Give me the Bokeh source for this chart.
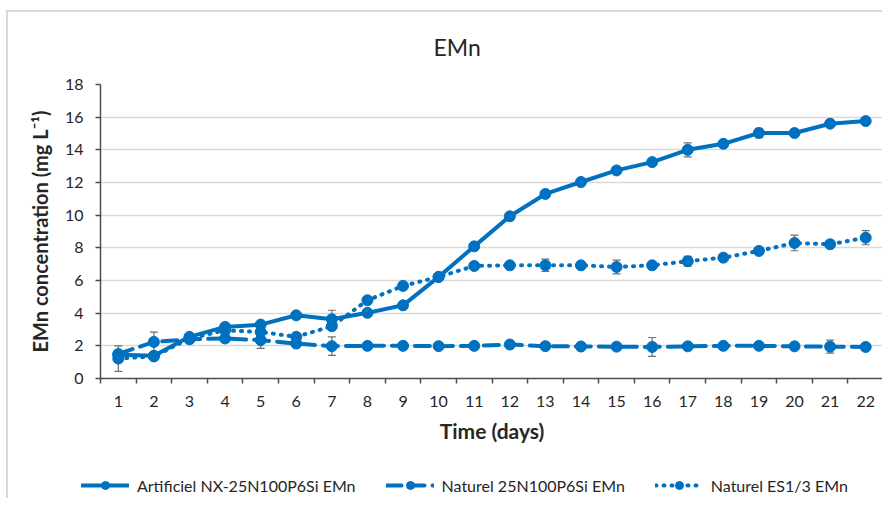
from bokeh.plotting import figure
from bokeh.models import (ColumnDataSource, Whisker, TeeHead, FixedTicker, Legend,
                          LegendItem, Title, Range1d)
from bokeh.embed import file_html
from bokeh.resources import INLINE

# ---- data ----
days = list(range(1, 23))
artificiel = [1.45, 1.39, 2.55, 3.16, 3.3, 3.87, 3.63, 4.02, 4.48, 6.22, 8.09, 9.93,
              11.3, 12.03, 12.74, 13.25, 14.0, 14.37, 15.03, 15.03, 15.6, 15.76]
artificiel_err = [0.1, 0.1, 0.1, 0.1, 0.1, 0.1, 0.55, 0.1, 0.1, 0.1, 0.1, 0.1,
                  0.2, 0.1, 0.1, 0.1, 0.43, 0.1, 0.28, 0.1, 0.1, 0.1]
naturel25 = [1.5, 2.24, 2.4, 2.45, 2.35, 2.14, 1.98, 2.0, 2.0, 1.98, 2.0, 2.08,
             1.98, 1.96, 1.95, 1.93, 1.97, 2.0, 2.0, 1.97, 1.95, 1.93]
naturel25_err = [0.1, 0.6, 0.1, 0.2, 0.5, 0.1, 0.57, 0.1, 0.1, 0.15, 0.12, 0.1,
                 0.1, 0.1, 0.1, 0.58, 0.1, 0.1, 0.1, 0.1, 0.4, 0.1]
es13 = [1.22, 1.35, 2.45, 2.95, 2.85, 2.55, 3.2, 4.79, 5.67, 6.22, 6.89, 6.93,
        6.93, 6.93, 6.83, 6.93, 7.18, 7.4, 7.81, 8.3, 8.22, 8.62]
es13_err = [0.78, 0.1, 0.1, 0.1, 0.1, 0.1, 0.1, 0.1, 0.1, 0.15, 0.1, 0.1,
            0.38, 0.1, 0.42, 0.1, 0.3, 0.1, 0.1, 0.48, 0.1, 0.43]

labels = ["Artificiel NX-25N100P6Si EMn", "Naturel 25N100P6Si EMn", "Naturel ES1/3 EMn"]
y_ticks = list(range(0, 19, 2))

BLUE = "#0070C0"
FONT = "Lato"
AXIS = "#4d4d4d"
TEXT = "#262626"
BORDER = "2px solid #d9d9d9"

# ---- title strip ----
tf = figure(width=876, height=50, output_backend="svg", toolbar_location=None,
            x_range=Range1d(0, 1), y_range=Range1d(0, 1), min_border=0,
            x_axis_type=None, y_axis_type=None, margin=(10, 0, 0, 6),
            styles={"border-left": BORDER, "border-top": BORDER})
tf.title.visible = False
tf.grid.visible = False
tf.outline_line_color = None
tf.add_layout(Title(text="EMn", align="left", offset=425, text_font=FONT,
                    text_font_size="23px", text_font_style="normal",
                    text_color=TEXT, standoff=4), "below")

# ---- main chart ----
p = figure(width=876, height=400, output_backend="svg", toolbar_location=None,
           x_range=Range1d(0.5, 22.5), y_range=Range1d(0, 18),
           min_border_left=92, min_border_right=1, min_border_top=24,
           min_border_bottom=82, margin=(0, 0, 0, 6),
           styles={"border-left": BORDER})
p.title.visible = False
p.outline_line_color = None
p.background_fill_color = "white"
p.border_fill_color = "white"

series = [
    (artificiel, artificiel_err, "solid"),
    (naturel25, naturel25_err, "15 8"),
    (es13, es13_err, "1 7"),
]

sources = []
for vals, errs, dash in series:
    src = ColumnDataSource(dict(x=days, y=vals,
                                lo=[v - e for v, e in zip(vals, errs)],
                                hi=[v + e for v, e in zip(vals, errs)]))
    sources.append(src)
    w = Whisker(base="x", upper="hi", lower="lo", source=src,
                line_color="#6f6f6f", line_width=1.2,
                upper_head=TeeHead(size=8, line_color="#6f6f6f", line_width=1.2),
                lower_head=TeeHead(size=8, line_color="#6f6f6f", line_width=1.2))
    p.add_layout(w)
    p.line("x", "y", source=src, line_color=BLUE, line_width=4,
           line_dash=dash, line_cap="round")
    p.scatter("x", "y", source=src, size=11, fill_color=BLUE, line_color=BLUE)

# x axis
p.xaxis.ticker = FixedTicker(ticks=days, minor_ticks=[d - 0.5 for d in days] + [22.5])
p.xaxis.major_tick_out = 0
p.xaxis.major_tick_in = 0
p.xaxis.minor_tick_out = 5
p.xaxis.minor_tick_in = 0
p.xaxis.minor_tick_line_color = AXIS
p.xaxis.minor_tick_line_width = 1.5
p.xaxis.axis_label = "Time (days)"
p.xaxis.major_label_standoff = 12
p.xaxis.axis_label_standoff = 8

# y axis
p.yaxis.ticker = FixedTicker(ticks=y_ticks)
p.yaxis.major_tick_out = 5
p.yaxis.major_tick_in = 0
p.yaxis.minor_tick_out = 0
p.yaxis.minor_tick_in = 0
p.yaxis.major_tick_line_color = AXIS
p.yaxis.major_tick_line_width = 1.5
p.yaxis.axis_label = "EMn concentration (mg L\u207b\u00b9)"
p.yaxis.major_label_standoff = 12
p.yaxis.axis_label_standoff = 10

for ax in (p.xaxis[0], p.yaxis[0]):
    ax.axis_line_color = AXIS
    ax.axis_line_width = 1.5
    ax.major_label_text_font = FONT
    ax.major_label_text_font_size = "16px"
    ax.major_label_text_color = TEXT
    ax.axis_label_text_font = FONT
    ax.axis_label_text_font_style = "bold"
    ax.axis_label_text_color = TEXT
p.yaxis.axis_label_text_font_size = "20px"
p.xaxis.axis_label_text_font_size = "21px"

p.xgrid.visible = False
p.ygrid.ticker = FixedTicker(ticks=y_ticks)
p.ygrid.grid_line_color = "#d9d9d9"
p.ygrid.grid_line_width = 1.5

# ---- legend strip (separate root so the legend is not clipped by the frame) ----
lf = figure(width=876, height=38, output_backend="svg", toolbar_location=None,
            x_range=Range1d(0, 1), y_range=Range1d(0, 1), min_border=0,
            x_axis_type=None, y_axis_type=None, margin=(0, 0, 0, 6),
            styles={"border-left": BORDER})
lf.grid.visible = False
lf.outline_line_color = None
lf.title.visible = False

items = []
for (vals, errs, dash), lab, src in zip(series, labels, sources):
    lr = lf.line("x", "y", source=src, line_color=BLUE, line_width=4,
                 line_dash=dash, line_cap="round", visible=False)
    sr = lf.scatter("x", "y", source=src, size=11, fill_color=BLUE,
                    line_color=BLUE, visible=False)
    items.append(LegendItem(label=lab, renderers=[lr, sr]))

legend = Legend(items=items, orientation="horizontal", location=(73, 3),
                glyph_width=48, glyph_height=20, label_standoff=8, spacing=30,
                padding=0, margin=0, border_line_alpha=0, background_fill_alpha=0,
                inactive_fill_alpha=0,
                label_text_font=FONT, label_text_font_size="16px",
                label_text_color=TEXT)
lf.add_layout(legend, "center")

open("out.html", "w").write(file_html([tf, p, lf], INLINE))
